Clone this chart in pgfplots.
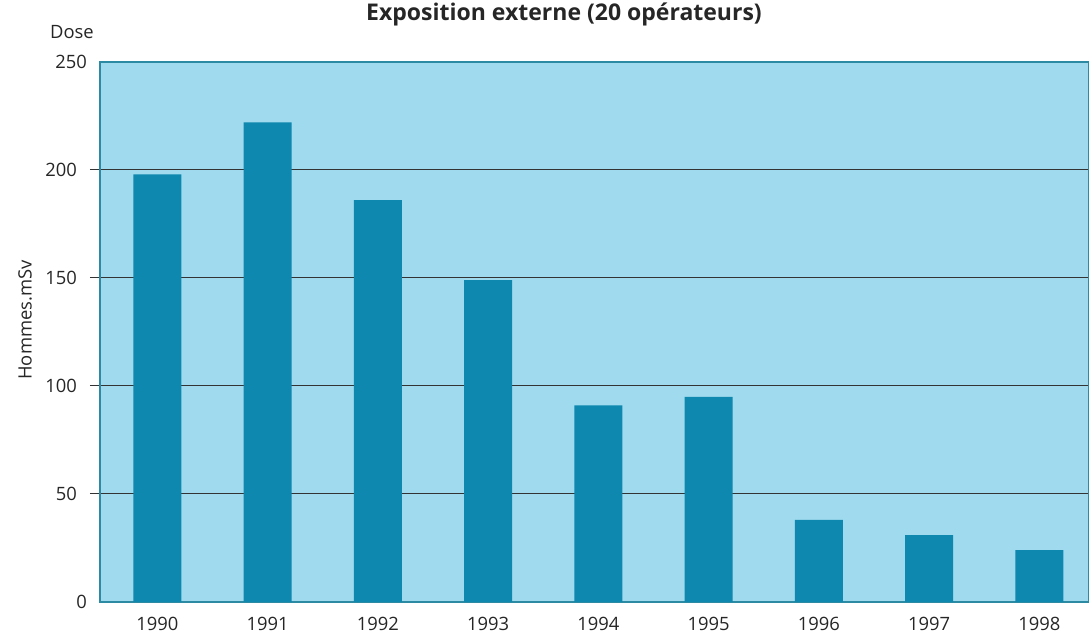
\documentclass[border=0pt]{standalone}
\usepackage{pgfplots}
\pgfplotsset{compat=1.18}
\usepackage{fontspec}
\setmainfont{Open Sans}
\definecolor{bgblue}{HTML}{A0DAEE}
\definecolor{barblue}{HTML}{0E88AE}
\definecolor{frame}{HTML}{2C8AA3}
\begin{document}
\begin{tikzpicture}
\useasboundingbox (-50pt,-17.5pt) rectangle (494.5pt,301pt);
\begin{axis}[
  at={(0pt,0pt)}, anchor=south west,
  scale only axis, width=494.5pt, height=270pt,
  xmin=-0.52, xmax=8.45, ymin=0, ymax=250,
  axis background/.style={fill=bgblue},
  axis line style={draw=frame, line width=0.8pt},
  xtick={0,...,8},
  xticklabels={1990,1991,1992,1993,1994,1995,1996,1997,1998},
  x tick label style={font=\fontsize{9.2}{11}\selectfont, color=black!85, yshift=1pt},
  xtick style={draw=none},
  ytick={50,100,150,200},
  extra y ticks={0,250},
  extra y tick style={major tick length=0pt, grid=none},
  y tick label style={font=\fontsize{9.2}{11}\selectfont, color=black!85},
  /pgf/number format/assume math mode=true,
  tick align=outside, major tick length=5pt,
  ytick style={draw=black!80, line width=0.5pt},
  ymajorgrids, grid style={draw=black!80, line width=0.5pt},
  yticklabel style={xshift=-3pt},
]
\addplot[ybar, bar width=24pt, fill=barblue, draw=none] coordinates {
 (0,198) (1,222) (2,186) (3,149) (4,91) (5,95) (6,38) (7,31) (8,24)};
\end{axis}
\node[font=\fontsize{11.5}{13}\selectfont\bfseries, color=black!85] at (232pt,294pt) {Exposition externe (20 opérateurs)};
\node[font=\fontsize{9.2}{11}\selectfont, color=black!85] at (-14pt,285pt) {Dose};
\node[font=\fontsize{9.2}{11}\selectfont, color=black!85, rotate=90] at (-37.5pt,141pt) {Hommes.mSv};
\end{tikzpicture}
\end{document}
